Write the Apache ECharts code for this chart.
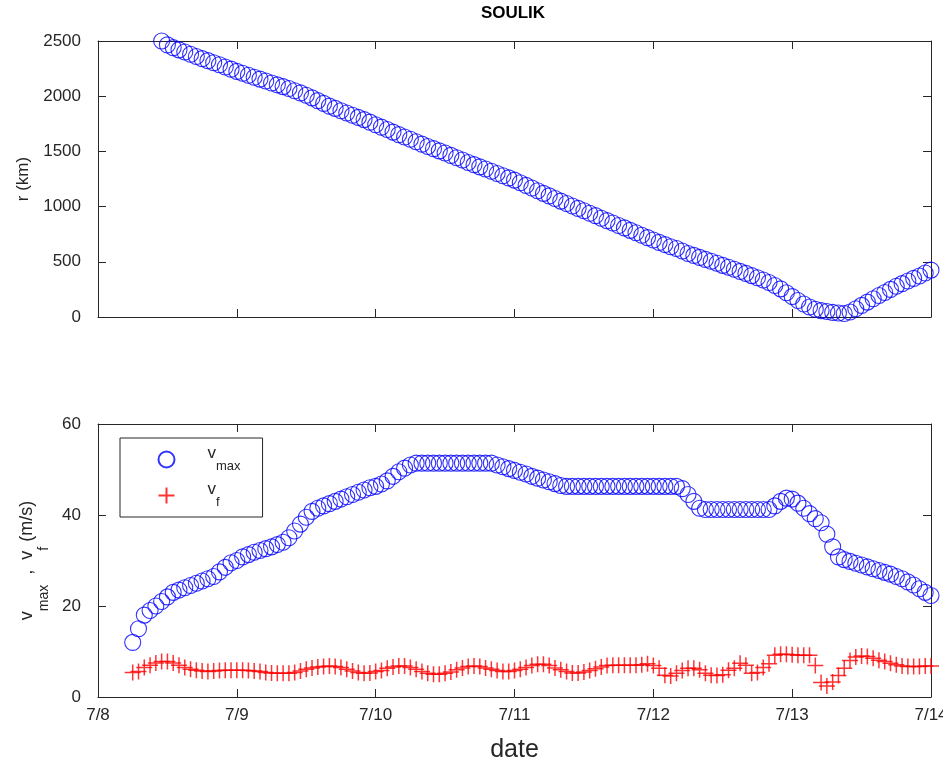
<!DOCTYPE html>
<html>
<head>
<meta charset="utf-8">
<script src="https://cdn.jsdelivr.net/npm/echarts@6/dist/echarts.min.js"></script>
<style>
html, body { margin: 0; padding: 0; background: #fff; }
#chart { width: 943px; height: 767px; }
</style>
</head>
<body>
<div id="chart"></div>
<script>
// Tick labels for the date axis (days after 7/8 00:00)
const dayLabels = ['7/8', '7/9', '7/10', '7/11', '7/12', '7/13', '7/14'];

// Distance r (km), hourly from 7/8 11:00 to 7/14 00:00
const rStartHour = 11;
const rKm = [
    2500, 2465, 2440, 2420, 2400, 2380, 2360, 2340, 2322, 2303,
    2285, 2265, 2245, 2225, 2208, 2190, 2172, 2155, 2138, 2120,
    2103, 2087, 2070, 2050, 2030, 2008, 1985, 1960, 1935, 1910,
    1890, 1868, 1848, 1828, 1808, 1788, 1765, 1742, 1720, 1698,
    1675, 1652, 1630, 1610, 1588, 1566, 1545, 1525, 1505, 1485,
    1464, 1443, 1422, 1400, 1380, 1360, 1340, 1320, 1300, 1280,
    1260, 1240, 1216, 1192, 1168, 1144, 1120, 1097, 1073, 1050,
    1028, 1006, 984, 962, 940, 918, 895, 873, 851, 829,
    807, 785, 763, 741, 719, 697, 676, 656, 637, 620,
    598, 575, 558, 540, 522, 505, 487, 468, 450, 432,
    413, 395, 375, 355, 335, 312, 285, 255, 220, 185,
    150, 118, 90, 70, 58, 50, 42, 36, 32, 45,
    75, 105, 135, 165, 195, 222, 250, 278, 302, 326,
    350, 372, 398, 425
];

// Speeds (m/s), hourly from 7/8 06:00 to 7/14 00:00
const vStartHour = 6;
const vMax = [
    12, 15, 18, 19, 20, 21, 22, 23, 23.5, 24,
    24.5, 25, 25.5, 26, 26.5, 27.5, 28.5, 29.5, 30, 30.8,
    31.3, 31.8, 32.2, 32.6, 33, 33.5, 34, 35, 36.5, 38,
    39.5, 40.8, 41.5, 42, 42.5, 43, 43.5, 44, 44.5, 45,
    45.5, 46, 46.3, 46.8, 47.5, 48.5, 49.5, 50.3, 51, 51.4,
    51.4, 51.4, 51.4, 51.4, 51.4, 51.4, 51.4, 51.4, 51.4, 51.4,
    51.4, 51.4, 51.4, 51, 50.6, 50.2, 49.8, 49.4, 49, 48.5,
    48.1, 47.7, 47.3, 46.9, 46.5, 46.3, 46.3, 46.3, 46.3, 46.3,
    46.3, 46.3, 46.3, 46.3, 46.3, 46.3, 46.3, 46.3, 46.3, 46.3,
    46.3, 46.3, 46.3, 46.3, 46.3, 45.8, 44.5, 43, 41.5, 41.2,
    41.2, 41.2, 41.2, 41.2, 41.2, 41.2, 41.2, 41.2, 41.2, 41.2,
    41.2, 42, 43, 43.7, 43.5, 42.6, 41.5, 40.3, 39.2, 38.3,
    35.8, 33, 30.8, 30.2, 29.8, 29.4, 29, 28.6, 28.2, 27.8,
    27.4, 27, 26.5, 26, 25.3, 24.6, 23.8, 23, 22.3
];
const vF = [
    5.4, 5.6, 6.5, 7, 7.5, 7.8, 7.8, 7.5, 7, 6.5,
    6.1, 5.9, 5.7, 5.6, 5.7, 5.8, 5.9, 5.9, 5.9, 5.9,
    5.8, 5.7, 5.6, 5.4, 5.3, 5.2, 5.2, 5.2, 5.4, 5.7,
    6.1, 6.4, 6.6, 6.7, 6.8, 6.7, 6.5, 6.1, 5.7, 5.4,
    5.2, 5.3, 5.6, 5.8, 6.3, 6.6, 6.8, 6.8, 6.5, 6.1,
    5.6, 5.2, 5.0, 5.0, 5.2, 5.5, 6.0, 6.4, 6.7, 6.8,
    6.7, 6.4, 6.1, 5.8, 5.6, 5.6, 5.8, 6.1, 6.5, 6.9,
    7.2, 7.2, 6.9, 6.4, 6.0, 5.6, 5.3, 5.3, 5.5, 5.8,
    6.2, 6.6, 6.9, 7.0, 7.0, 7.0, 7.0, 7.0, 7.1, 7.3,
    6.9, 6.3, 4.8, 4.6, 5.2, 5.8, 6.3, 6.3, 6.0, 5.2,
    4.8, 4.7, 4.9, 5.9, 6.3, 7.4, 7.0, 5.2, 5.4, 6.5,
    7.3, 9.2, 9.4, 9.4, 9.3, 9.2, 9.2, 9.2, 6.9, 3.2,
    2.4, 3.3, 4.7, 6.3, 8.0, 8.8, 9.0, 8.9, 8.5, 8.1,
    7.8, 7.4, 7.1, 6.8, 6.7, 6.7, 6.7, 6.8, 6.8
];

// hourly samples -> [day, value]
const toPoints = (start, vals) => vals.map((v, i) => [(start + i) / 24, v]);

const axisColor = '#262626';
const fontFamily = 'Liberation Sans, Arial, sans-serif';
const crossPath = 'path://M0,8L16,8M8,0L8,16';

// v with a subscript: the subscript sits lower (in the text's own frame)
const nameRich = {
    v: { fontSize: 18, fontFamily: fontFamily, color: axisColor, padding: [0, 0, 14, 0] },
    s: { fontSize: 14, fontFamily: fontFamily, color: axisColor, padding: [19, 0, 0, 0] }
};
const legendRich = {
    v: { fontSize: 17, fontFamily: fontFamily, color: axisColor, padding: [0, 0, 12, 0] },
    s: { fontSize: 13, fontFamily: fontFamily, color: axisColor, padding: [14, 0, 0, 0] }
};

// one boxed axis pair per grid: bottom/left carry labels, top/right only ticks
const makeX = (gridIndex, position, showLabels) => ({
    gridIndex: gridIndex,
    type: 'value',
    position: position,
    min: 0,
    max: 6,
    interval: 1,
    axisLine: { show: true, onZero: false, lineStyle: { color: axisColor, width: 1 } },
    axisTick: { show: true, inside: true, length: 8, lineStyle: { color: axisColor } },
    axisLabel: {
        show: showLabels,
        margin: 10,
        fontSize: 17,
        fontFamily: fontFamily,
        color: axisColor,
        formatter: v => dayLabels[v]
    },
    splitLine: { show: false }
});

const makeY = (gridIndex, position, max, interval, showLabels) => ({
    gridIndex: gridIndex,
    type: 'value',
    position: position,
    min: 0,
    max: max,
    interval: interval,
    axisLine: { show: true, onZero: false, lineStyle: { color: axisColor, width: 1 } },
    axisTick: { show: true, inside: true, length: 8, lineStyle: { color: axisColor } },
    axisLabel: {
        show: showLabels,
        margin: 17,
        fontSize: 17,
        fontFamily: fontFamily,
        color: axisColor,
        formatter: v => String(v)
    },
    splitLine: { show: false }
});

const xAxes = [
    makeX(0, 'bottom', false),
    makeX(0, 'top', false),
    Object.assign(makeX(1, 'bottom', true), {
        name: 'date',
        nameLocation: 'middle',
        nameGap: 41,
        nameTextStyle: { fontSize: 25, fontFamily: fontFamily, color: axisColor }
    }),
    makeX(1, 'top', false)
];

const yAxes = [
    Object.assign(makeY(0, 'left', 2500, 500, true), {
        name: 'r (km)',
        nameLocation: 'middle',
        nameRotate: 90,
        nameGap: 59,
        nameTextStyle: { fontSize: 17, fontFamily: fontFamily, color: axisColor }
    }),
    makeY(0, 'right', 2500, 500, false),
    Object.assign(makeY(1, 'left', 60, 20, true), {
        name: '{v|v}{s|max}{v|  ,  v}{s|f}{v| (m/s)}',
        nameLocation: 'middle',
        nameRotate: 90,
        nameGap: 47,
        nameTextStyle: { rich: nameRich }
    }),
    makeY(1, 'right', 60, 20, false)
];

const chart = echarts.init(document.getElementById('chart'), null, { renderer: 'canvas' });

chart.setOption({
    animation: false,
    backgroundColor: '#ffffff',
    title: {
        text: 'SOULIK',
        left: 508,
        textAlign: 'center',
        top: 0,
        textStyle: { fontSize: 17, fontWeight: 'bold', fontFamily: fontFamily, color: '#000' }
    },
    legend: {
        orient: 'vertical',
        left: 120,
        top: 438,
        padding: [7, 22, 8, 36],
        itemWidth: 72,
        itemHeight: 16,
        itemGap: 8,
        borderColor: axisColor,
        borderWidth: 1,
        selectedMode: false,
        data: ['vmax', 'vf'],
        formatter: name => name === 'vmax' ? '{v|v}{s|max}' : '{v|v}{s|f}',
        textStyle: { rich: legendRich }
    },
    grid: [
        { left: 98, right: 12, top: 41, height: 276, outerBoundsMode: 'none' },
        { left: 98, right: 12, top: 424, height: 273, outerBoundsMode: 'none' }
    ],
    xAxis: xAxes,
    yAxis: yAxes,
    series: [
        {
            name: 'r',
            type: 'scatter',
            xAxisIndex: 0,
            yAxisIndex: 0,
            symbol: 'circle',
            symbolSize: 16,
            itemStyle: { color: 'none', borderColor: '#0000ff', borderWidth: 1.1 },
            emphasis: { disabled: true },
            data: toPoints(rStartHour, rKm)
        },
        {
            name: 'vmax',
            type: 'scatter',
            xAxisIndex: 2,
            yAxisIndex: 2,
            symbol: 'circle',
            symbolSize: 16,
            itemStyle: { color: 'none', borderColor: '#0000ff', borderWidth: 1.1 },
            emphasis: { disabled: true },
            data: toPoints(vStartHour, vMax)
        },
        {
            name: 'vf',
            type: 'scatter',
            xAxisIndex: 2,
            yAxisIndex: 2,
            symbol: crossPath,
            symbolSize: 16,
            itemStyle: { color: 'none', borderColor: '#ff0000', borderWidth: 1.5 },
            emphasis: { disabled: true },
            data: toPoints(vStartHour, vF)
        }
    ]
});
</script>
</body>
</html>
